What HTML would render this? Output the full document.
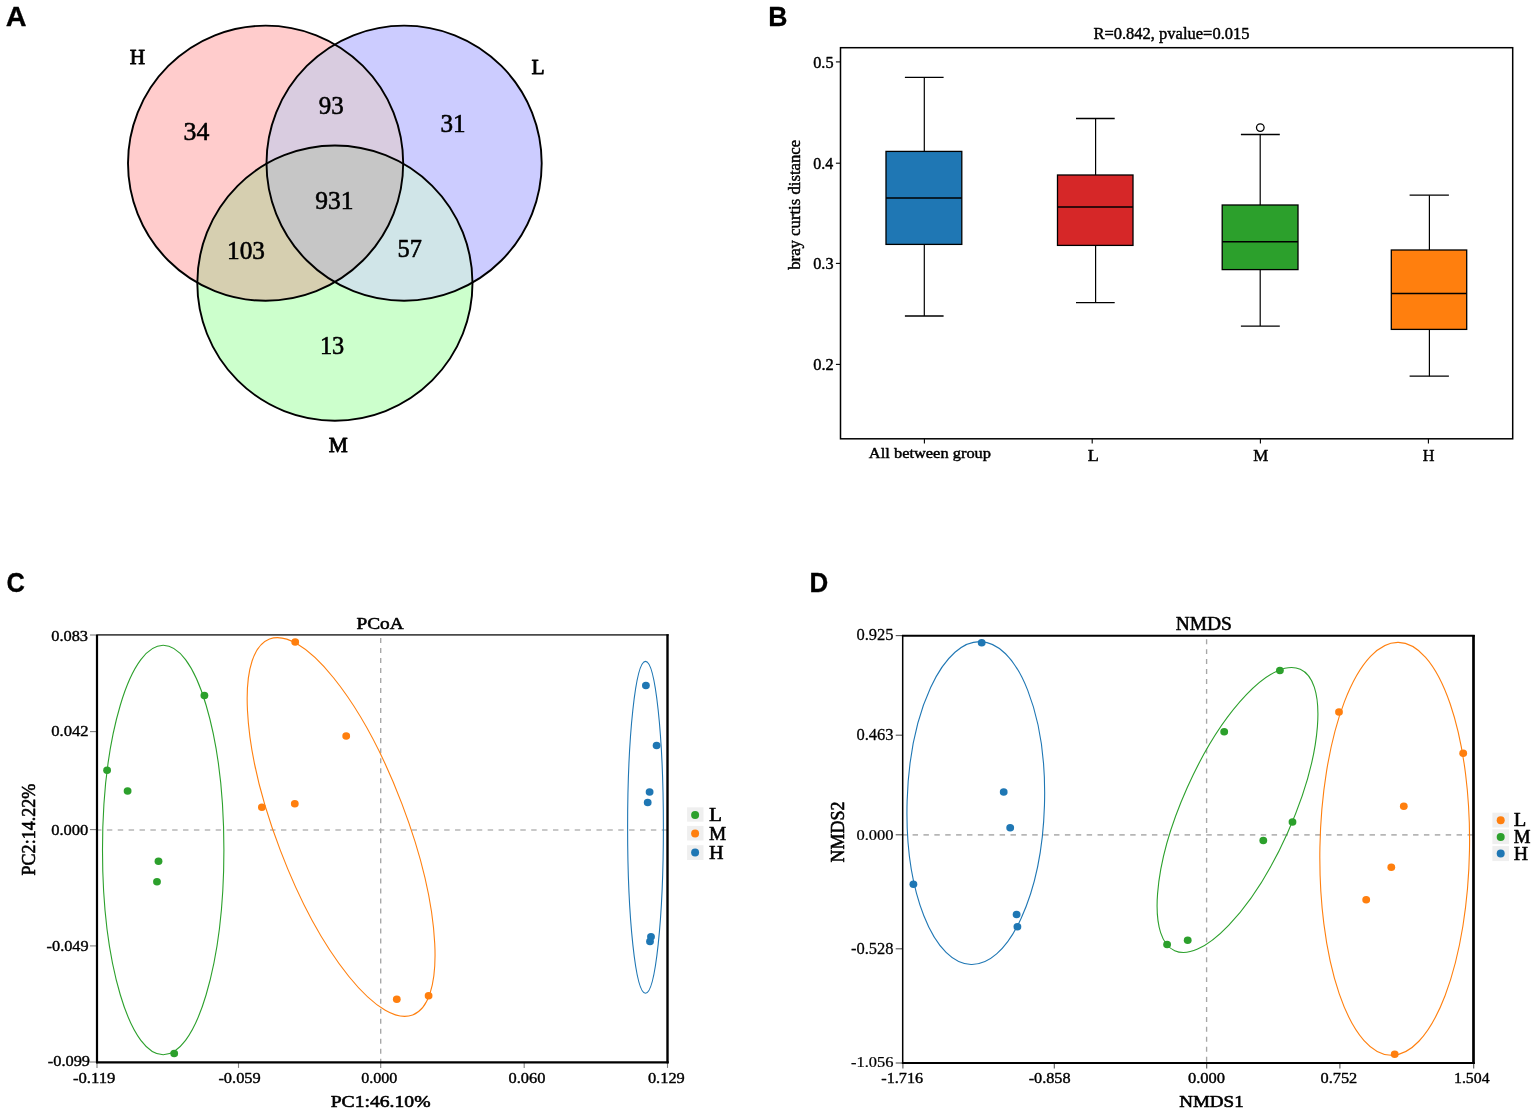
<!DOCTYPE html>
<html lang="en"><head><meta charset="utf-8"><title>Figure</title>
<style>
html,body{margin:0;padding:0;background:#fff}
body{width:1535px;height:1109px;overflow:hidden}
svg{display:block}
text{fill:#000}
.s{font-family:"Liberation Serif","Times New Roman",serif}
.sb{font-family:"Liberation Serif","Times New Roman",serif;font-weight:bold}
.a{font-family:"Liberation Sans",Arial,sans-serif}
.ab{font-family:"Liberation Sans",Arial,sans-serif;font-weight:bold}
</style></head><body>
<svg width="1535" height="1109" viewBox="0 0 1535 1109">
<rect width="1535" height="1109" fill="#fff"/>
<text class="ab" font-size="27.58" transform="translate(5.63 25.80) scale(1.0445 1)" stroke="#000" stroke-width="0.3" stroke-linejoin="round">A</text>
<text class="ab" font-size="27.58" transform="translate(768.36 25.70) scale(0.9630 1)" stroke="#000" stroke-width="0.3" stroke-linejoin="round">B</text>
<text class="ab" font-size="27.58" transform="translate(6.53 592.10) scale(0.9245 1)" stroke="#000" stroke-width="0.3" stroke-linejoin="round">C</text>
<text class="ab" font-size="27.14" transform="translate(809.60 591.80) scale(0.9564 1)" stroke="#000" stroke-width="0.3" stroke-linejoin="round">D</text>
<defs>
<clipPath id="cH"><circle cx="265.6" cy="163.2" r="137.6"/></clipPath>
<clipPath id="cL"><circle cx="404.1" cy="163.2" r="137.6"/></clipPath>
<clipPath id="cM"><circle cx="334.9" cy="283.1" r="137.6"/></clipPath>
</defs>
<circle cx="265.6" cy="163.2" r="137.6" fill="#ffcccc"/>
<circle cx="404.1" cy="163.2" r="137.6" fill="#ccccff"/>
<circle cx="334.9" cy="283.1" r="137.6" fill="#ccffcc"/>
<g clip-path="url(#cH)"><circle cx="404.1" cy="163.2" r="137.6" fill="#d9cce0"/></g>
<g clip-path="url(#cH)"><circle cx="334.9" cy="283.1" r="137.6" fill="#d6cfb0"/></g>
<g clip-path="url(#cL)"><circle cx="334.9" cy="283.1" r="137.6" fill="#d0e5e8"/></g>
<g clip-path="url(#cH)"><g clip-path="url(#cL)"><circle cx="334.9" cy="283.1" r="137.6" fill="#c6c6c6"/></g></g>
<circle cx="265.6" cy="163.2" r="137.6" fill="none" stroke="#000" stroke-width="1.9"/>
<circle cx="404.1" cy="163.2" r="137.6" fill="none" stroke="#000" stroke-width="1.9"/>
<circle cx="334.9" cy="283.1" r="137.6" fill="none" stroke="#000" stroke-width="1.9"/>
<text class="s" font-size="21.01" transform="translate(129.76 64.00) scale(1.0131 1)" stroke="#000" stroke-width="0.8" stroke-linejoin="round">H</text>
<text class="s" font-size="20.85" transform="translate(531.45 73.80) scale(1.0328 1)" stroke="#000" stroke-width="0.8" stroke-linejoin="round">L</text>
<text class="s" font-size="20.85" transform="translate(328.86 451.60) scale(1.0283 1)" stroke="#000" stroke-width="0.8" stroke-linejoin="round">M</text>
<text class="s" font-size="25.54" transform="translate(183.57 139.90) scale(1.0107 1)" stroke="#000" stroke-width="0.6" stroke-linejoin="round">34</text>
<text class="s" font-size="25.54" transform="translate(318.69 114.00) scale(0.9794 1)" stroke="#000" stroke-width="0.6" stroke-linejoin="round">93</text>
<text class="s" font-size="25.54" transform="translate(315.37 209.30) scale(0.9987 1)" stroke="#000" stroke-width="0.6" stroke-linejoin="round">931</text>
<text class="s" font-size="25.54" transform="translate(440.41 131.50) scale(0.9827 1)" stroke="#000" stroke-width="0.6" stroke-linejoin="round">31</text>
<text class="s" font-size="25.54" transform="translate(227.09 259.00) scale(0.9899 1)" stroke="#000" stroke-width="0.6" stroke-linejoin="round">103</text>
<text class="s" font-size="25.54" transform="translate(319.97 354.00) scale(0.9514 1)" stroke="#000" stroke-width="0.6" stroke-linejoin="round">13</text>
<text class="s" font-size="25.54" transform="translate(397.50 256.70) scale(0.9526 1)" stroke="#000" stroke-width="0.6" stroke-linejoin="round">57</text>
<rect x="840.5" y="47.7" width="672.20" height="391.10" fill="#fff" stroke="#000" stroke-width="1.5"/>
<line x1="835.9" y1="61.9" x2="840.5" y2="61.9" stroke="#000" stroke-width="1.1"/>
<text class="s" font-size="16.45" transform="translate(813.22 67.60) scale(0.9876 1)" stroke="#000" stroke-width="0.45" stroke-linejoin="round">0.5</text>
<line x1="835.9" y1="163.2" x2="840.5" y2="163.2" stroke="#000" stroke-width="1.1"/>
<text class="s" font-size="16.45" transform="translate(813.23 168.90) scale(0.9670 1)" stroke="#000" stroke-width="0.45" stroke-linejoin="round">0.4</text>
<line x1="835.9" y1="263.4" x2="840.5" y2="263.4" stroke="#000" stroke-width="1.1"/>
<text class="s" font-size="16.45" transform="translate(813.22 269.10) scale(0.9876 1)" stroke="#000" stroke-width="0.45" stroke-linejoin="round">0.3</text>
<line x1="835.9" y1="364.4" x2="840.5" y2="364.4" stroke="#000" stroke-width="1.1"/>
<text class="s" font-size="16.45" transform="translate(813.21 370.10) scale(1.0004 1)" stroke="#000" stroke-width="0.45" stroke-linejoin="round">0.2</text>
<line x1="924.4" y1="438.8" x2="924.4" y2="443.40000000000003" stroke="#000" stroke-width="1.1"/>
<line x1="1092.2" y1="438.8" x2="1092.2" y2="443.40000000000003" stroke="#000" stroke-width="1.1"/>
<line x1="1260.4" y1="438.8" x2="1260.4" y2="443.40000000000003" stroke="#000" stroke-width="1.1"/>
<line x1="1428.4" y1="438.8" x2="1428.4" y2="443.40000000000003" stroke="#000" stroke-width="1.1"/>
<path d="M924.3 77.4V151.4M924.3 244.4V316.0" stroke="#000" stroke-width="1.2" fill="none"/>
<path d="M904.9 77.4H943.6M904.9 316.0H943.6" stroke="#000" stroke-width="1.3" fill="none"/>
<rect x="886.0" y="151.4" width="75.80" height="93.00" fill="#1f77b4" stroke="#000" stroke-width="1.3"/>
<line x1="886.0" y1="198.0" x2="961.8" y2="198.0" stroke="#000" stroke-width="1.5"/>
<path d="M1095.6 118.5V175.0M1095.6 245.4V302.7" stroke="#000" stroke-width="1.2" fill="none"/>
<path d="M1076.0 118.5H1114.7M1076.0 302.7H1114.7" stroke="#000" stroke-width="1.3" fill="none"/>
<rect x="1057.5" y="175.0" width="75.50" height="70.40" fill="#d62728" stroke="#000" stroke-width="1.3"/>
<line x1="1057.5" y1="207.0" x2="1133.0" y2="207.0" stroke="#000" stroke-width="1.5"/>
<path d="M1260.2 134.5V205.0M1260.2 269.6V326.1" stroke="#000" stroke-width="1.2" fill="none"/>
<path d="M1240.9 134.5H1279.8M1240.9 326.1H1279.8" stroke="#000" stroke-width="1.3" fill="none"/>
<rect x="1222.2" y="205.0" width="75.80" height="64.60" fill="#2ca02c" stroke="#000" stroke-width="1.3"/>
<line x1="1222.2" y1="241.8" x2="1298.0" y2="241.8" stroke="#000" stroke-width="1.5"/>
<path d="M1429.4 195.2V250.0M1429.4 329.4V376.2" stroke="#000" stroke-width="1.2" fill="none"/>
<path d="M1409.6 195.2H1448.9M1409.6 376.2H1448.9" stroke="#000" stroke-width="1.3" fill="none"/>
<rect x="1391.3" y="250.0" width="75.40" height="79.40" fill="#ff7f0e" stroke="#000" stroke-width="1.3"/>
<line x1="1391.3" y1="293.5" x2="1466.7" y2="293.5" stroke="#000" stroke-width="1.5"/>
<circle cx="1260.3" cy="127.6" r="3.8" fill="#fff" stroke="#000" stroke-width="1.3"/>
<text class="s" font-size="16.70" transform="translate(1093.43 39.40) scale(0.9886 1)" stroke="#000" stroke-width="0.45" stroke-linejoin="round">R=0.842, pvalue=0.015</text>
<text class="s" font-size="14.91" transform="translate(868.86 457.70) scale(1.1019 1)" stroke="#000" stroke-width="0.45" stroke-linejoin="round">All between group</text>
<text class="s" font-size="16.55" transform="translate(1087.68 461.40) scale(1.0981 1)" stroke="#000" stroke-width="0.45" stroke-linejoin="round">L</text>
<text class="s" font-size="16.55" transform="translate(1253.32 461.40) scale(1.0228 1)" stroke="#000" stroke-width="0.45" stroke-linejoin="round">M</text>
<text class="s" font-size="16.55" transform="translate(1422.64 461.40) scale(0.9805 1)" stroke="#000" stroke-width="0.45" stroke-linejoin="round">H</text>
<text class="s" font-size="16.17" transform="translate(800.20 269.77) rotate(-90) scale(1.0346 1)" stroke="#000" stroke-width="0.45" stroke-linejoin="round">bray curtis distance</text>
<line x1="97.0" y1="830.0" x2="667.5" y2="830.0" stroke="#b6b6b6" stroke-width="1.7" stroke-dasharray="5.44 5.44" stroke-dashoffset="1.00"/>
<line x1="380.7" y1="634.9" x2="380.7" y2="1062.3" stroke="#a6a6a6" stroke-width="1.35" stroke-dasharray="5.01 5.01" stroke-dashoffset="7.00"/>
<ellipse cx="0" cy="0" rx="60.7" ry="204.7" transform="translate(163.2 850.0) rotate(0)" fill="none" stroke="#2ca02c" stroke-width="1.1"/>
<ellipse cx="0" cy="0" rx="201.1" ry="65.1" transform="translate(341.1 827.0) rotate(69.15)" fill="none" stroke="#ff7f0e" stroke-width="1.1"/>
<ellipse cx="0" cy="0" rx="17.9" ry="165.9" transform="translate(645.5 827.3) rotate(0)" fill="none" stroke="#1f77b4" stroke-width="1.1"/>
<ellipse cx="107.1" cy="770.3" rx="3.9" ry="3.75" fill="#2ca02c"/>
<ellipse cx="204.4" cy="695.5" rx="3.9" ry="3.75" fill="#2ca02c"/>
<ellipse cx="127.6" cy="790.9" rx="3.9" ry="3.75" fill="#2ca02c"/>
<ellipse cx="158.5" cy="861.3" rx="3.9" ry="3.75" fill="#2ca02c"/>
<ellipse cx="157.0" cy="881.8" rx="3.9" ry="3.75" fill="#2ca02c"/>
<ellipse cx="174.2" cy="1053.5" rx="3.9" ry="3.75" fill="#2ca02c"/>
<ellipse cx="295.2" cy="641.9" rx="3.9" ry="3.75" fill="#ff7f0e"/>
<ellipse cx="346.2" cy="735.9" rx="3.9" ry="3.75" fill="#ff7f0e"/>
<ellipse cx="294.8" cy="803.8" rx="3.9" ry="3.75" fill="#ff7f0e"/>
<ellipse cx="261.9" cy="807.3" rx="3.9" ry="3.75" fill="#ff7f0e"/>
<ellipse cx="396.8" cy="999.2" rx="3.9" ry="3.75" fill="#ff7f0e"/>
<ellipse cx="428.6" cy="995.8" rx="3.9" ry="3.75" fill="#ff7f0e"/>
<ellipse cx="645.9" cy="685.5" rx="3.9" ry="3.75" fill="#1f77b4"/>
<ellipse cx="656.6" cy="745.4" rx="3.9" ry="3.75" fill="#1f77b4"/>
<ellipse cx="649.6" cy="792.1" rx="3.9" ry="3.75" fill="#1f77b4"/>
<ellipse cx="647.7" cy="802.4" rx="3.9" ry="3.75" fill="#1f77b4"/>
<ellipse cx="651.0" cy="936.7" rx="3.9" ry="3.75" fill="#1f77b4"/>
<ellipse cx="650.0" cy="941.4" rx="3.9" ry="3.75" fill="#1f77b4"/>
<line x1="97.0" y1="1062.3" x2="97.0" y2="1067.8999999999999" stroke="#808080" stroke-width="1.1"/>
<text class="s" font-size="15.46" transform="translate(72.97 1082.90) scale(1.0801 1)" stroke="#000" stroke-width="0.4" stroke-linejoin="round">-0.119</text>
<line x1="238.5" y1="1062.3" x2="238.5" y2="1067.8999999999999" stroke="#808080" stroke-width="1.1"/>
<text class="s" font-size="15.46" transform="translate(218.38 1082.90) scale(1.0614 1)" stroke="#000" stroke-width="0.4" stroke-linejoin="round">-0.059</text>
<line x1="380.7" y1="1062.3" x2="380.7" y2="1067.8999999999999" stroke="#808080" stroke-width="1.1"/>
<text class="s" font-size="15.46" transform="translate(361.20 1082.90) scale(1.0380 1)" stroke="#000" stroke-width="0.4" stroke-linejoin="round">0.000</text>
<line x1="524.2" y1="1062.3" x2="524.2" y2="1067.8999999999999" stroke="#808080" stroke-width="1.1"/>
<text class="s" font-size="15.46" transform="translate(508.48 1082.90) scale(1.0618 1)" stroke="#000" stroke-width="0.4" stroke-linejoin="round">0.060</text>
<line x1="667.5" y1="1062.3" x2="667.5" y2="1067.8999999999999" stroke="#808080" stroke-width="1.1"/>
<text class="s" font-size="15.46" transform="translate(647.88 1082.90) scale(1.0630 1)" stroke="#000" stroke-width="0.4" stroke-linejoin="round">0.129</text>
<line x1="90.0" y1="635.0" x2="97.0" y2="635.0" stroke="#808080" stroke-width="1.1"/>
<text class="s" font-size="15.46" transform="translate(51.19 640.60) scale(1.0600 1)" stroke="#000" stroke-width="0.4" stroke-linejoin="round">0.083</text>
<line x1="90.0" y1="731.6" x2="97.0" y2="731.6" stroke="#808080" stroke-width="1.1"/>
<text class="s" font-size="15.46" transform="translate(51.18 736.40) scale(1.0764 1)" stroke="#000" stroke-width="0.4" stroke-linejoin="round">0.042</text>
<line x1="90.0" y1="829.6" x2="97.0" y2="829.6" stroke="#808080" stroke-width="1.1"/>
<text class="s" font-size="15.46" transform="translate(51.18 834.80) scale(1.0677 1)" stroke="#000" stroke-width="0.4" stroke-linejoin="round">0.000</text>
<line x1="90.0" y1="945.9" x2="97.0" y2="945.9" stroke="#808080" stroke-width="1.1"/>
<text class="s" font-size="15.46" transform="translate(46.59 950.80) scale(1.0536 1)" stroke="#000" stroke-width="0.4" stroke-linejoin="round">-0.049</text>
<line x1="90.0" y1="1062.0" x2="97.0" y2="1062.0" stroke="#808080" stroke-width="1.1"/>
<text class="s" font-size="15.46" transform="translate(47.79 1066.20) scale(1.0588 1)" stroke="#000" stroke-width="0.4" stroke-linejoin="round">-0.099</text>
<line x1="96.2" y1="634.9" x2="668.7" y2="634.9" stroke="#4a4a4a" stroke-width="1.9"/>
<line x1="97.0" y1="634.9" x2="97.0" y2="1063.3" stroke="#000" stroke-width="2.2"/>
<line x1="667.5" y1="634.1999999999999" x2="667.5" y2="1063.3" stroke="#000" stroke-width="2.4"/>
<line x1="96.2" y1="1062.3" x2="668.7" y2="1062.3" stroke="#000" stroke-width="2.3"/>
<text class="s" font-size="17.34" transform="translate(356.39 628.70) scale(1.1148 1)" stroke="#000" stroke-width="0.55" stroke-linejoin="round">PCoA</text>
<text class="s" font-size="17.59" transform="translate(330.71 1106.70) scale(1.1168 1)" stroke="#000" stroke-width="0.6" stroke-linejoin="round">PC1:46.10%</text>
<text class="s" font-size="19.42" transform="translate(35.20 875.44) rotate(-90) scale(0.9293 1)" stroke="#000" stroke-width="0.6" stroke-linejoin="round">PC2:14.22%</text>
<rect x="687.1" y="807.3" width="16.40" height="14.40" fill="#efefef"/>
<circle cx="695.1" cy="814.9" r="4" fill="#2ca02c"/>
<text class="s" font-size="17.80" transform="translate(708.94 821.00) scale(1.1937 1)" stroke="#000" stroke-width="0.55" stroke-linejoin="round">L</text>
<rect x="687.1" y="825.9" width="16.40" height="14.60" fill="#efefef"/>
<circle cx="695.1" cy="833.5" r="4" fill="#ff7f0e"/>
<text class="s" font-size="17.80" transform="translate(708.99 839.90) scale(1.0863 1)" stroke="#000" stroke-width="0.55" stroke-linejoin="round">M</text>
<rect x="687.1" y="845.2" width="16.40" height="14.80" fill="#efefef"/>
<circle cx="695.1" cy="852.6" r="4" fill="#1f77b4"/>
<text class="s" font-size="17.80" transform="translate(708.97 858.90) scale(1.1320 1)" stroke="#000" stroke-width="0.55" stroke-linejoin="round">H</text>
<line x1="902.7" y1="834.85" x2="1473.5" y2="834.85" stroke="#b6b6b6" stroke-width="1.7" stroke-dasharray="5.44 5.44" stroke-dashoffset="1.00"/>
<line x1="1206.6" y1="635.7" x2="1206.6" y2="1063.0" stroke="#a6a6a6" stroke-width="1.35" stroke-dasharray="4.97 4.97" stroke-dashoffset="6.45"/>
<ellipse cx="0" cy="0" rx="68.7" ry="161.5" transform="translate(975.8 803.1) rotate(1.7)" fill="none" stroke="#1f77b4" stroke-width="1.1"/>
<ellipse cx="0" cy="0" rx="55.0" ry="154.1" transform="translate(1237.5 810.0) rotate(24.05)" fill="none" stroke="#2ca02c" stroke-width="1.1"/>
<ellipse cx="0" cy="0" rx="74.8" ry="206.5" transform="translate(1394.7 848.8) rotate(1.0)" fill="none" stroke="#ff7f0e" stroke-width="1.1"/>
<ellipse cx="981.7" cy="642.7" rx="3.9" ry="3.75" fill="#1f77b4"/>
<ellipse cx="1003.7" cy="791.9" rx="3.9" ry="3.75" fill="#1f77b4"/>
<ellipse cx="1010.2" cy="827.8" rx="3.9" ry="3.75" fill="#1f77b4"/>
<ellipse cx="913.4" cy="884.2" rx="3.9" ry="3.75" fill="#1f77b4"/>
<ellipse cx="1016.6" cy="914.5" rx="3.9" ry="3.75" fill="#1f77b4"/>
<ellipse cx="1017.4" cy="926.8" rx="3.9" ry="3.75" fill="#1f77b4"/>
<ellipse cx="1279.9" cy="670.6" rx="3.9" ry="3.75" fill="#2ca02c"/>
<ellipse cx="1224.2" cy="731.7" rx="3.9" ry="3.75" fill="#2ca02c"/>
<ellipse cx="1292.5" cy="822.0" rx="3.9" ry="3.75" fill="#2ca02c"/>
<ellipse cx="1263.3" cy="840.4" rx="3.9" ry="3.75" fill="#2ca02c"/>
<ellipse cx="1167.1" cy="944.4" rx="3.9" ry="3.75" fill="#2ca02c"/>
<ellipse cx="1187.7" cy="940.2" rx="3.9" ry="3.75" fill="#2ca02c"/>
<ellipse cx="1339.0" cy="712.1" rx="3.9" ry="3.75" fill="#ff7f0e"/>
<ellipse cx="1463.2" cy="753.2" rx="3.9" ry="3.75" fill="#ff7f0e"/>
<ellipse cx="1403.8" cy="806.3" rx="3.9" ry="3.75" fill="#ff7f0e"/>
<ellipse cx="1391.3" cy="867.2" rx="3.9" ry="3.75" fill="#ff7f0e"/>
<ellipse cx="1366.2" cy="899.8" rx="3.9" ry="3.75" fill="#ff7f0e"/>
<ellipse cx="1394.7" cy="1054.3" rx="3.9" ry="3.75" fill="#ff7f0e"/>
<line x1="902.9" y1="1063.0" x2="902.9" y2="1068.6" stroke="#555" stroke-width="1.1"/>
<text class="s" font-size="15.46" transform="translate(881.29 1082.90) scale(1.0494 1)" stroke="#000" stroke-width="0.4" stroke-linejoin="round">-1.716</text>
<line x1="1054.3" y1="1063.0" x2="1054.3" y2="1068.6" stroke="#555" stroke-width="1.1"/>
<text class="s" font-size="15.46" transform="translate(1028.69 1082.90) scale(1.0500 1)" stroke="#000" stroke-width="0.4" stroke-linejoin="round">-0.858</text>
<line x1="1206.7" y1="1063.0" x2="1206.7" y2="1068.6" stroke="#555" stroke-width="1.1"/>
<text class="s" font-size="15.46" transform="translate(1187.88 1082.90) scale(1.0677 1)" stroke="#000" stroke-width="0.4" stroke-linejoin="round">0.000</text>
<line x1="1339.9" y1="1063.0" x2="1339.9" y2="1068.6" stroke="#555" stroke-width="1.1"/>
<text class="s" font-size="15.46" transform="translate(1320.49 1082.90) scale(1.0584 1)" stroke="#000" stroke-width="0.4" stroke-linejoin="round">0.752</text>
<line x1="1473.7" y1="1063.0" x2="1473.7" y2="1068.6" stroke="#555" stroke-width="1.1"/>
<text class="s" font-size="15.46" transform="translate(1454.01 1082.90) scale(1.0242 1)" stroke="#000" stroke-width="0.4" stroke-linejoin="round">1.504</text>
<line x1="895.7" y1="635.6" x2="902.7" y2="635.6" stroke="#555" stroke-width="1.1"/>
<text class="s" font-size="15.64" transform="translate(856.40 639.80) scale(1.0581 1)" stroke="#000" stroke-width="0.25" stroke-linejoin="round">0.925</text>
<line x1="895.7" y1="735.2" x2="902.7" y2="735.2" stroke="#555" stroke-width="1.1"/>
<text class="s" font-size="15.64" transform="translate(856.40 740.20) scale(1.0581 1)" stroke="#000" stroke-width="0.25" stroke-linejoin="round">0.463</text>
<line x1="895.7" y1="834.8" x2="902.7" y2="834.8" stroke="#555" stroke-width="1.1"/>
<text class="s" font-size="15.64" transform="translate(856.41 839.70) scale(1.0569 1)" stroke="#000" stroke-width="0.25" stroke-linejoin="round">0.000</text>
<line x1="895.7" y1="948.8" x2="902.7" y2="948.8" stroke="#555" stroke-width="1.1"/>
<text class="s" font-size="15.64" transform="translate(851.01 954.00) scale(1.0544 1)" stroke="#000" stroke-width="0.25" stroke-linejoin="round">-0.528</text>
<line x1="895.7" y1="1063.0" x2="902.7" y2="1063.0" stroke="#555" stroke-width="1.1"/>
<text class="s" font-size="15.64" transform="translate(851.01 1066.80) scale(1.0513 1)" stroke="#000" stroke-width="0.25" stroke-linejoin="round">-1.056</text>
<line x1="901.9000000000001" y1="635.7" x2="1474.7" y2="635.7" stroke="#000" stroke-width="1.9"/>
<line x1="902.7" y1="635.7" x2="902.7" y2="1064.0" stroke="#000" stroke-width="1.5"/>
<line x1="1473.5" y1="635.0" x2="1473.5" y2="1064.0" stroke="#000" stroke-width="2.7"/>
<line x1="901.9000000000001" y1="1063.0" x2="1474.7" y2="1063.0" stroke="#000" stroke-width="2.1"/>
<text class="s" font-size="18.41" transform="translate(1175.69 629.60) scale(1.0571 1)" stroke="#000" stroke-width="0.55" stroke-linejoin="round">NMDS</text>
<text class="s" font-size="17.59" transform="translate(1179.13 1106.70) scale(1.0837 1)" stroke="#000" stroke-width="0.6" stroke-linejoin="round">NMDS1</text>
<text class="s" font-size="19.11" transform="translate(844.00 862.54) rotate(-90) scale(0.9419 1)" stroke="#000" stroke-width="0.6" stroke-linejoin="round">NMDS2</text>
<rect x="1492.4" y="812.7" width="16.60" height="14.80" fill="#efefef"/>
<circle cx="1500.7" cy="820.3" r="4" fill="#ff7f0e"/>
<text class="s" font-size="17.80" transform="translate(1513.66 825.70) scale(1.1505 1)" stroke="#000" stroke-width="0.55" stroke-linejoin="round">L</text>
<rect x="1492.4" y="829.3" width="16.60" height="14.80" fill="#efefef"/>
<circle cx="1500.7" cy="837.0" r="4" fill="#2ca02c"/>
<text class="s" font-size="17.80" transform="translate(1513.71 842.50) scale(1.0592 1)" stroke="#000" stroke-width="0.55" stroke-linejoin="round">M</text>
<rect x="1492.4" y="846.1" width="16.60" height="15.00" fill="#efefef"/>
<circle cx="1500.7" cy="853.6" r="4" fill="#1f77b4"/>
<text class="s" font-size="17.80" transform="translate(1513.68 859.80) scale(1.1150 1)" stroke="#000" stroke-width="0.55" stroke-linejoin="round">H</text>
</svg>
</body></html>
